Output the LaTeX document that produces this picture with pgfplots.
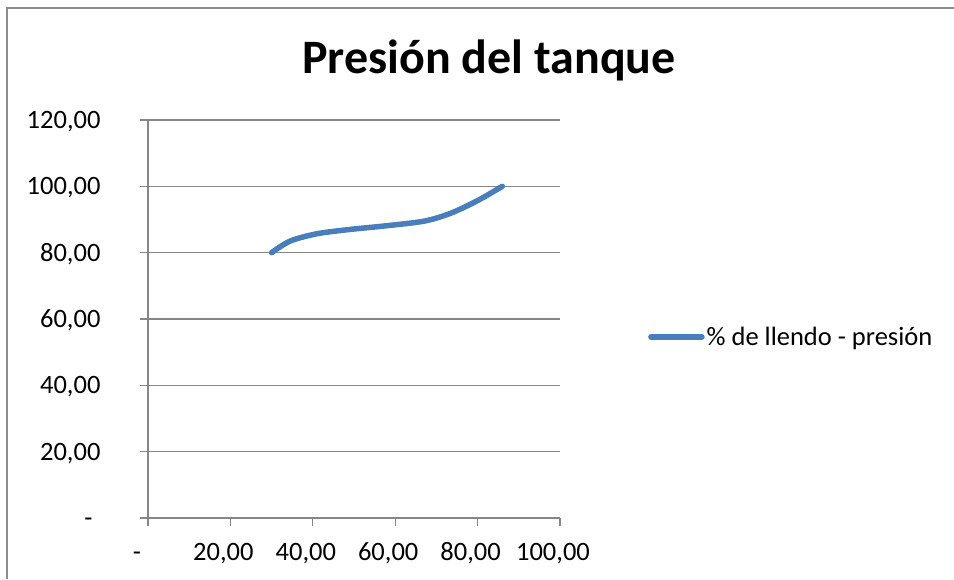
\documentclass[border=0pt]{standalone}
\usepackage{fontspec}
\setmainfont{Carlito}
\usepackage{pgfplots}
\pgfplotsset{compat=1.18}
\definecolor{serie}{HTML}{4A7EBB}
\definecolor{rejilla}{HTML}{868686}
\definecolor{marco}{HTML}{8C8C8C}

\begin{document}
\begin{tikzpicture}[x=1pt,y=1pt]
\useasboundingbox (0,0) rectangle (954,579);
% marco del grafico (solo izquierda y arriba visibles)
\draw[marco, line width=1.5pt] (7,0) -- (7,571) -- (954,571);
% titulo
\node[font=\fontsize{48}{56}\selectfont\bfseries, anchor=center] at (489,519) {Presión del tanque};

\begin{axis}[
  at={(148pt,61pt)}, anchor=south west,
  scale only axis,
  width=412pt, height=398pt,
  xmin=0, xmax=100, ymin=0, ymax=120,
  axis line style={rejilla, line width=1.3pt},
  axis x line*=bottom, axis y line*=left,
  xtick={0,20,40,60,80,100},
  ytick={0,20,40,60,80,100,120},
  xticklabels={{-\kern8pt},{20,00},{40,00},{60,00},{80,00},{100,00}},
  yticklabels={{-\kern8pt},{20,00},{40,00},{60,00},{80,00},{100,00},{120,00}},
  tick align=outside,
  major tick length=8pt,
  tick style={rejilla, line width=1.3pt},
  ymajorgrids,
  grid style={rejilla, line width=1.6pt},
  ticklabel style={font=\fontsize{26.5}{30}\selectfont},
  yticklabel style={anchor=base east, xshift=-36pt, yshift=-8.5pt},
  xticklabel style={anchor=base, xshift=-7pt, yshift=-34pt},
  legend style={at={(1.2136,0.4548)}, anchor=west, draw=none, fill=none,
    inner sep=0pt, font=\fontsize{26.5}{30}\selectfont,
    nodes={inner sep=2pt}},
  legend image code/.code={\draw[#1] (0pt,0pt) -- (51pt,0pt);},
  clip=false,
]
\addplot[serie, line width=5.5pt, line cap=round, smooth] coordinates {
  (30,80) (34.5,83.5) (41,85.7) (49,87) (57,88) (67,89.5) (73.5,91.9) (80,95.7) (86,100)
};
\addlegendentry{\% de llendo - presión}
\end{axis}
\end{tikzpicture}
\end{document}
